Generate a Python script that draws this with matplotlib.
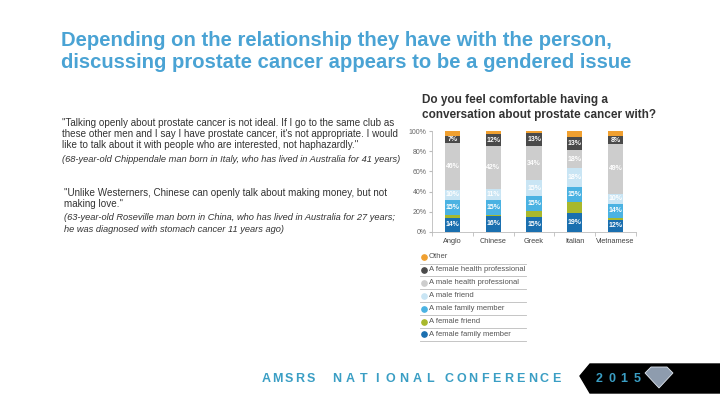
import matplotlib
matplotlib.use("Agg")
import matplotlib.pyplot as plt
from matplotlib.patches import Polygon
import numpy as np

plt.rcParams['font.family'] = ['Liberation Sans', 'DejaVu Sans']

categories = ['Anglo', 'Chinese', 'Greek', 'Italian', 'Vietnamese']
female_family = [14, 16, 15, 19, 12]
female_friend = [3, 1, 6, 11, 2]
male_family = [15, 15, 15, 15, 14]
male_friend = [10, 11, 15, 18, 10]
male_hp = [46, 42, 34, 18, 49]
female_hp = [7, 12, 13, 13, 8]
other = [5, 3, 2, 6, 5]
yticks = [0, 20, 40, 60, 80, 100]

series = [
    ('A female family member', female_family, '#1A6FAF', True),
    ('A female friend', female_friend, '#A8B82C', False),
    ('A male family member', male_family, '#4AB2E2', True),
    ('A male friend', male_friend, '#C9E5F4', True),
    ('A male health professional', male_hp, '#CDCDCD', True),
    ('A female health professional', female_hp, '#4A4A4A', True),
    ('Other', other, '#F0A030', False),
]

W, H = 720, 405
fig = plt.figure(figsize=(7.2, 4.05), dpi=100)
fig.patch.set_facecolor('white')

# overlay for layout (pixel coords)
ov = fig.add_axes([0, 0, 1, 1])
ov.set_xlim(0, W)
ov.set_ylim(H, 0)
ov.axis('off')

# Title
tc = '#4AA3D4'
ov.text(61, 40, 'Depending on the relationship they have with the person,',
        fontsize=14.6, fontweight='bold', color=tc, va='center', ha='left')
ov.text(61, 62, 'discussing prostate cancer appears to be a gendered issue',
        fontsize=14.6, fontweight='bold', color=tc, va='center', ha='left')

# Question
ov.text(422, 100, 'Do you feel comfortable having a', fontsize=8.5, fontweight='bold',
        color='#333333', va='center', ha='left')
ov.text(422, 115, 'conversation about prostate cancer with?', fontsize=8.5, fontweight='bold',
        color='#333333', va='center', ha='left')

# Quotes
qc = '#333333'
qfs = 7.1
ov.text(62, 123, '"Talking openly about prostate cancer is not ideal. If I go to the same club as',
        fontsize=qfs, color=qc, va='center')
ov.text(62, 134, "these other men and I say I have prostate cancer, it's not appropriate. I would",
        fontsize=qfs, color=qc, va='center')
ov.text(62, 145, 'like to talk about it with people who are interested, not haphazardly."',
        fontsize=qfs, color=qc, va='center')
ov.text(62, 160, '(68-year-old Chippendale man born in Italy, who has lived in Australia for 41 years)',
        fontsize=6.7, color=qc, va='center', style='italic')
ov.text(64, 193, '"Unlike Westerners, Chinese can openly talk about making money, but not',
        fontsize=qfs, color=qc, va='center')
ov.text(64, 204, 'making love."', fontsize=qfs, color=qc, va='center')
ov.text(64, 218, '(63-year-old Roseville man born in China, who has lived in Australia for 27 years;',
        fontsize=6.7, color=qc, va='center', style='italic')
ov.text(64, 229, 'he was diagnosed with stomach cancer 11 years ago)',
        fontsize=6.7, color=qc, va='center', style='italic')

# Legend (top to bottom: reversed series order)
ly0 = 257
for i, (name, vals, col, _) in enumerate(series[::-1]):
    y = ly0 + i * 12.9
    ov.plot([424], [y], marker='o', ms=3.8, color=col, mec=col)
    ov.text(429, y, name, fontsize=5.5, color='#555555', va='center', ha='left')
    ov.plot([420, 526], [y + 6.5, y + 6.5], color='#BBBBBB', lw=0.6)

# Footer
fc = '#3A9EC4'
for word, x0, pitch in [('AMSRS', 266, 11.2), ('NATIONAL', 337, 13.3), ('CONFERENCE', 449, 11.9)]:
    for i, ch in enumerate(word):
        ov.text(x0 + i * pitch, 379, ch, fontsize=9, fontweight='bold', color=fc,
                va='center', ha='center')
ov.add_patch(Polygon([[580, 376], [590, 364], [720, 364], [720, 393], [590, 393]],
                     closed=True, color='black', zorder=1))
for i, ch in enumerate('2015'):
    ov.text(599 + i * 12.6, 379, ch, fontsize=9, fontweight='bold', color=fc,
            va='center', ha='center', zorder=2)
ov.add_patch(Polygon([[645, 373], [651, 367], [667, 367], [673, 373], [659, 388]],
                     closed=True, facecolor='#8E9CAE', edgecolor='#E2E8F0', lw=0.6, zorder=2))

# Bar chart
ax = fig.add_axes([432 / W, 1 - 232 / H, (636 - 432) / W, (232 - 131) / H])
x = np.arange(len(categories))
bottom = np.zeros(len(categories))
for name, vals, col, lab in series:
    vals = np.array(vals, dtype=float)
    ax.bar(x, vals, width=0.37, bottom=bottom, color=col, label=name, zorder=2)
    if lab:
        for xi, b, v in zip(x, bottom, vals):
            ax.text(xi, b + v / 2, f'{int(v)}%', ha='center', va='center',
                    fontsize=5, color='white', fontweight='bold', zorder=3)
    bottom += vals

ax.set_xlim(-0.5, len(categories) - 0.5)
ax.set_ylim(0, 100)
ax.set_yticks(yticks)
ax.set_yticklabels([f'{t}%' for t in yticks], fontsize=5, color='#666666')
ax.set_xticks(x)
ax.set_xticklabels(categories, fontsize=5.3, color='#444444')
ax.tick_params(axis='x', length=0, pad=4)
ax.tick_params(axis='y', length=2, color='#BBBBBB', pad=2)
ax.set_xticks(np.arange(-0.5, len(categories), 1), minor=True)
ax.tick_params(axis='x', which='minor', length=3, color='#BBBBBB')
for s in ['top', 'right']:
    ax.spines[s].set_visible(False)
for s in ['left', 'bottom']:
    ax.spines[s].set_color('#BBBBBB')
    ax.spines[s].set_linewidth(0.6)
ax.patch.set_alpha(0)

fig.savefig('out.png', dpi=100, facecolor='white')
